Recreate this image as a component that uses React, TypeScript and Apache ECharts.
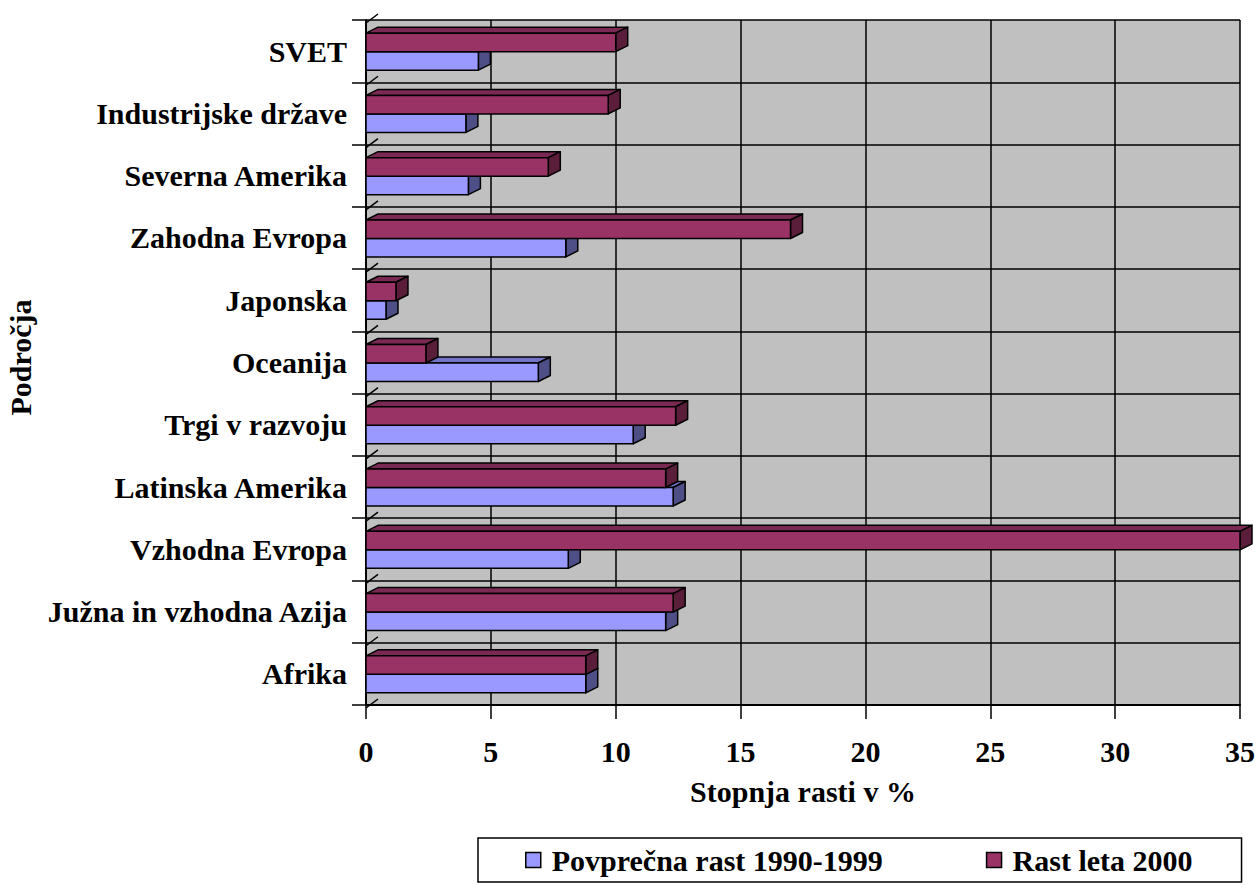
import React, { useEffect, useRef } from "react";
import * as echarts from "echarts";

// Regions, listed top to bottom
const categories = [
  "SVET",
  "Industrijske države",
  "Severna Amerika",
  "Zahodna Evropa",
  "Japonska",
  "Oceanija",
  "Trgi v razvoju",
  "Latinska Amerika",
  "Vzhodna Evropa",
  "Južna in vzhodna Azija",
  "Afrika",
];

// Average growth 1990-1999 (%)
const avg1990to1999 = [4.5, 4.0, 4.1, 8.0, 0.8, 6.9, 10.7, 12.3, 8.1, 12.0, 8.8];
// Growth in 2000 (%)
const growth2000 = [10.0, 9.7, 7.3, 17.0, 1.2, 2.4, 12.4, 12.0, 35.0, 12.3, 8.8];

const seriesNames = ["Povprečna rast 1990-1999", "Rast leta 2000"];

const FONT = '"Liberation Serif", "Times New Roman", serif';

type Palette = { front: string; top: string; side: string };
const bluePalette: Palette = { front: "#9999FF", top: "#7373C8", side: "#4F4F88" };
const maroonPalette: Palette = { front: "#993366", top: "#7A2952", side: "#5A1E3A" };

// Draws a pseudo-3D bar: front face, top face and right side face.
function makeBarRenderer(pal: Palette, slot: 0 | 1, withSlashes: boolean) {
  return (params: any, api: any) => {
    const val = api.value(0);
    const idx = api.value(1);
    const p0 = api.coord([0, idx]);
    const p1 = api.coord([val, idx]);
    const band = api.size([0, 1])[1];
    const h = band * 0.297;
    const yTop = slot === 0 ? p0[1] + 0.5 - h : p0[1] + 0.5;
    const x0 = p0[0];
    const x1 = p1[0];
    const dx = 12;
    const dy = -6;
    const stroke = { stroke: "#000", lineWidth: 1.5, lineJoin: "round" };
    const children: any[] = [];

    // small depth strokes where the floor meets the category axis
    if (withSlashes) {
      const yb = p0[1] - band / 2;
      children.push({
        type: "line",
        shape: { x1: x0, y1: yb + 3, x2: x0 + 12, y2: yb - 6 },
        style: { stroke: "#000", lineWidth: 1.5 },
      });
      if (idx === categories.length - 1) {
        children.push({
          type: "line",
          shape: { x1: x0, y1: yb + band + 3, x2: x0 + 12, y2: yb + band - 6 },
          style: { stroke: "#000", lineWidth: 1.5 },
        });
      }
    }

    children.push({
      type: "polygon",
      shape: {
        points: [
          [x0, yTop],
          [x0 + dx, yTop + dy],
          [x1 + dx, yTop + dy],
          [x1, yTop],
        ],
      },
      style: { fill: pal.top, ...stroke },
    });
    children.push({
      type: "polygon",
      shape: {
        points: [
          [x1, yTop],
          [x1 + dx, yTop + dy],
          [x1 + dx, yTop + h + dy],
          [x1, yTop + h],
        ],
      },
      style: { fill: pal.side, ...stroke },
    });
    children.push({
      type: "rect",
      shape: { x: x0, y: yTop, width: x1 - x0, height: h },
      style: { fill: pal.front, ...stroke },
    });
    return { type: "group", children };
  };
}

export default function App() {
  const ref = useRef<HTMLDivElement>(null);

  useEffect(() => {
    document.body.style.margin = "0";
    const chart = echarts.init(ref.current!, null, { renderer: "svg" });
    const labelStyle = { color: "#000", fontFamily: FONT, fontWeight: "bold" as const, fontSize: 30 };

    chart.setOption({
      animation: false,
      backgroundColor: "#fff",
      grid: {
        left: 366,
        right: 20,
        top: 20,
        bottom: 180,
        outerBoundsMode: "none",
        containLabel: false,
        show: true,
        backgroundColor: "#C0C0C0",
        borderWidth: 0,
      },
      xAxis: {
        type: "value",
        min: 0,
        max: 35,
        interval: 5,
        name: "Stopnja rasti v %",
        nameLocation: "middle",
        nameGap: 71,
        nameTextStyle: { ...labelStyle },
        axisLine: { show: true, lineStyle: { color: "#000", width: 2 } },
        axisTick: { show: true, length: 14, lineStyle: { color: "#000", width: 1.5 } },
        axisLabel: { ...labelStyle, margin: 31 },
        splitLine: { show: true, lineStyle: { color: "#000", width: 1.5 } },
      },
      yAxis: {
        type: "category",
        inverse: true,
        data: categories,
        name: "Področja",
        nameLocation: "middle",
        nameRotate: 90,
        nameGap: 325,
        nameTextStyle: { ...labelStyle, padding: [0, 0, 0, 10] },
        axisLine: { show: true, lineStyle: { color: "#000", width: 2 } },
        axisTick: { show: true, length: 14, lineStyle: { color: "#000", width: 1.5 } },
        axisLabel: { ...labelStyle, margin: 19 },
        splitLine: { show: true, lineStyle: { color: "#000", width: 1.5 } },
      },
      legend: {
        left: 478,
        top: 838,
        orient: "horizontal",
        itemGap: 103,
        itemWidth: 15,
        itemHeight: 15,
        padding: [7, 49, 7, 47],
        borderColor: "#000",
        borderWidth: 1.5,
        backgroundColor: "#fff",
        icon: "rect",
        textStyle: { ...labelStyle, padding: [0, 0, 0, 6] },
        data: [
          { name: seriesNames[0], itemStyle: { color: bluePalette.front, borderColor: "#000", borderWidth: 1.5 } },
          { name: seriesNames[1], itemStyle: { color: maroonPalette.front, borderColor: "#000", borderWidth: 1.5 } },
        ],
      },
      series: [
        {
          name: seriesNames[0],
          type: "custom",
          clip: false,
          z: 3,
          itemStyle: { color: bluePalette.front },
          encode: { x: 0, y: 1 },
          data: avg1990to1999.map((v, i) => [v, i]),
          renderItem: makeBarRenderer(bluePalette, 1, true),
        },
        {
          name: seriesNames[1],
          type: "custom",
          clip: false,
          z: 4,
          itemStyle: { color: maroonPalette.front },
          encode: { x: 0, y: 1 },
          data: growth2000.map((v, i) => [v, i]),
          renderItem: makeBarRenderer(maroonPalette, 0, false),
        },
      ],
    });

    return () => chart.dispose();
  }, []);

  return <div ref={ref} style={{ width: 1260, height: 885 }} />;
}
